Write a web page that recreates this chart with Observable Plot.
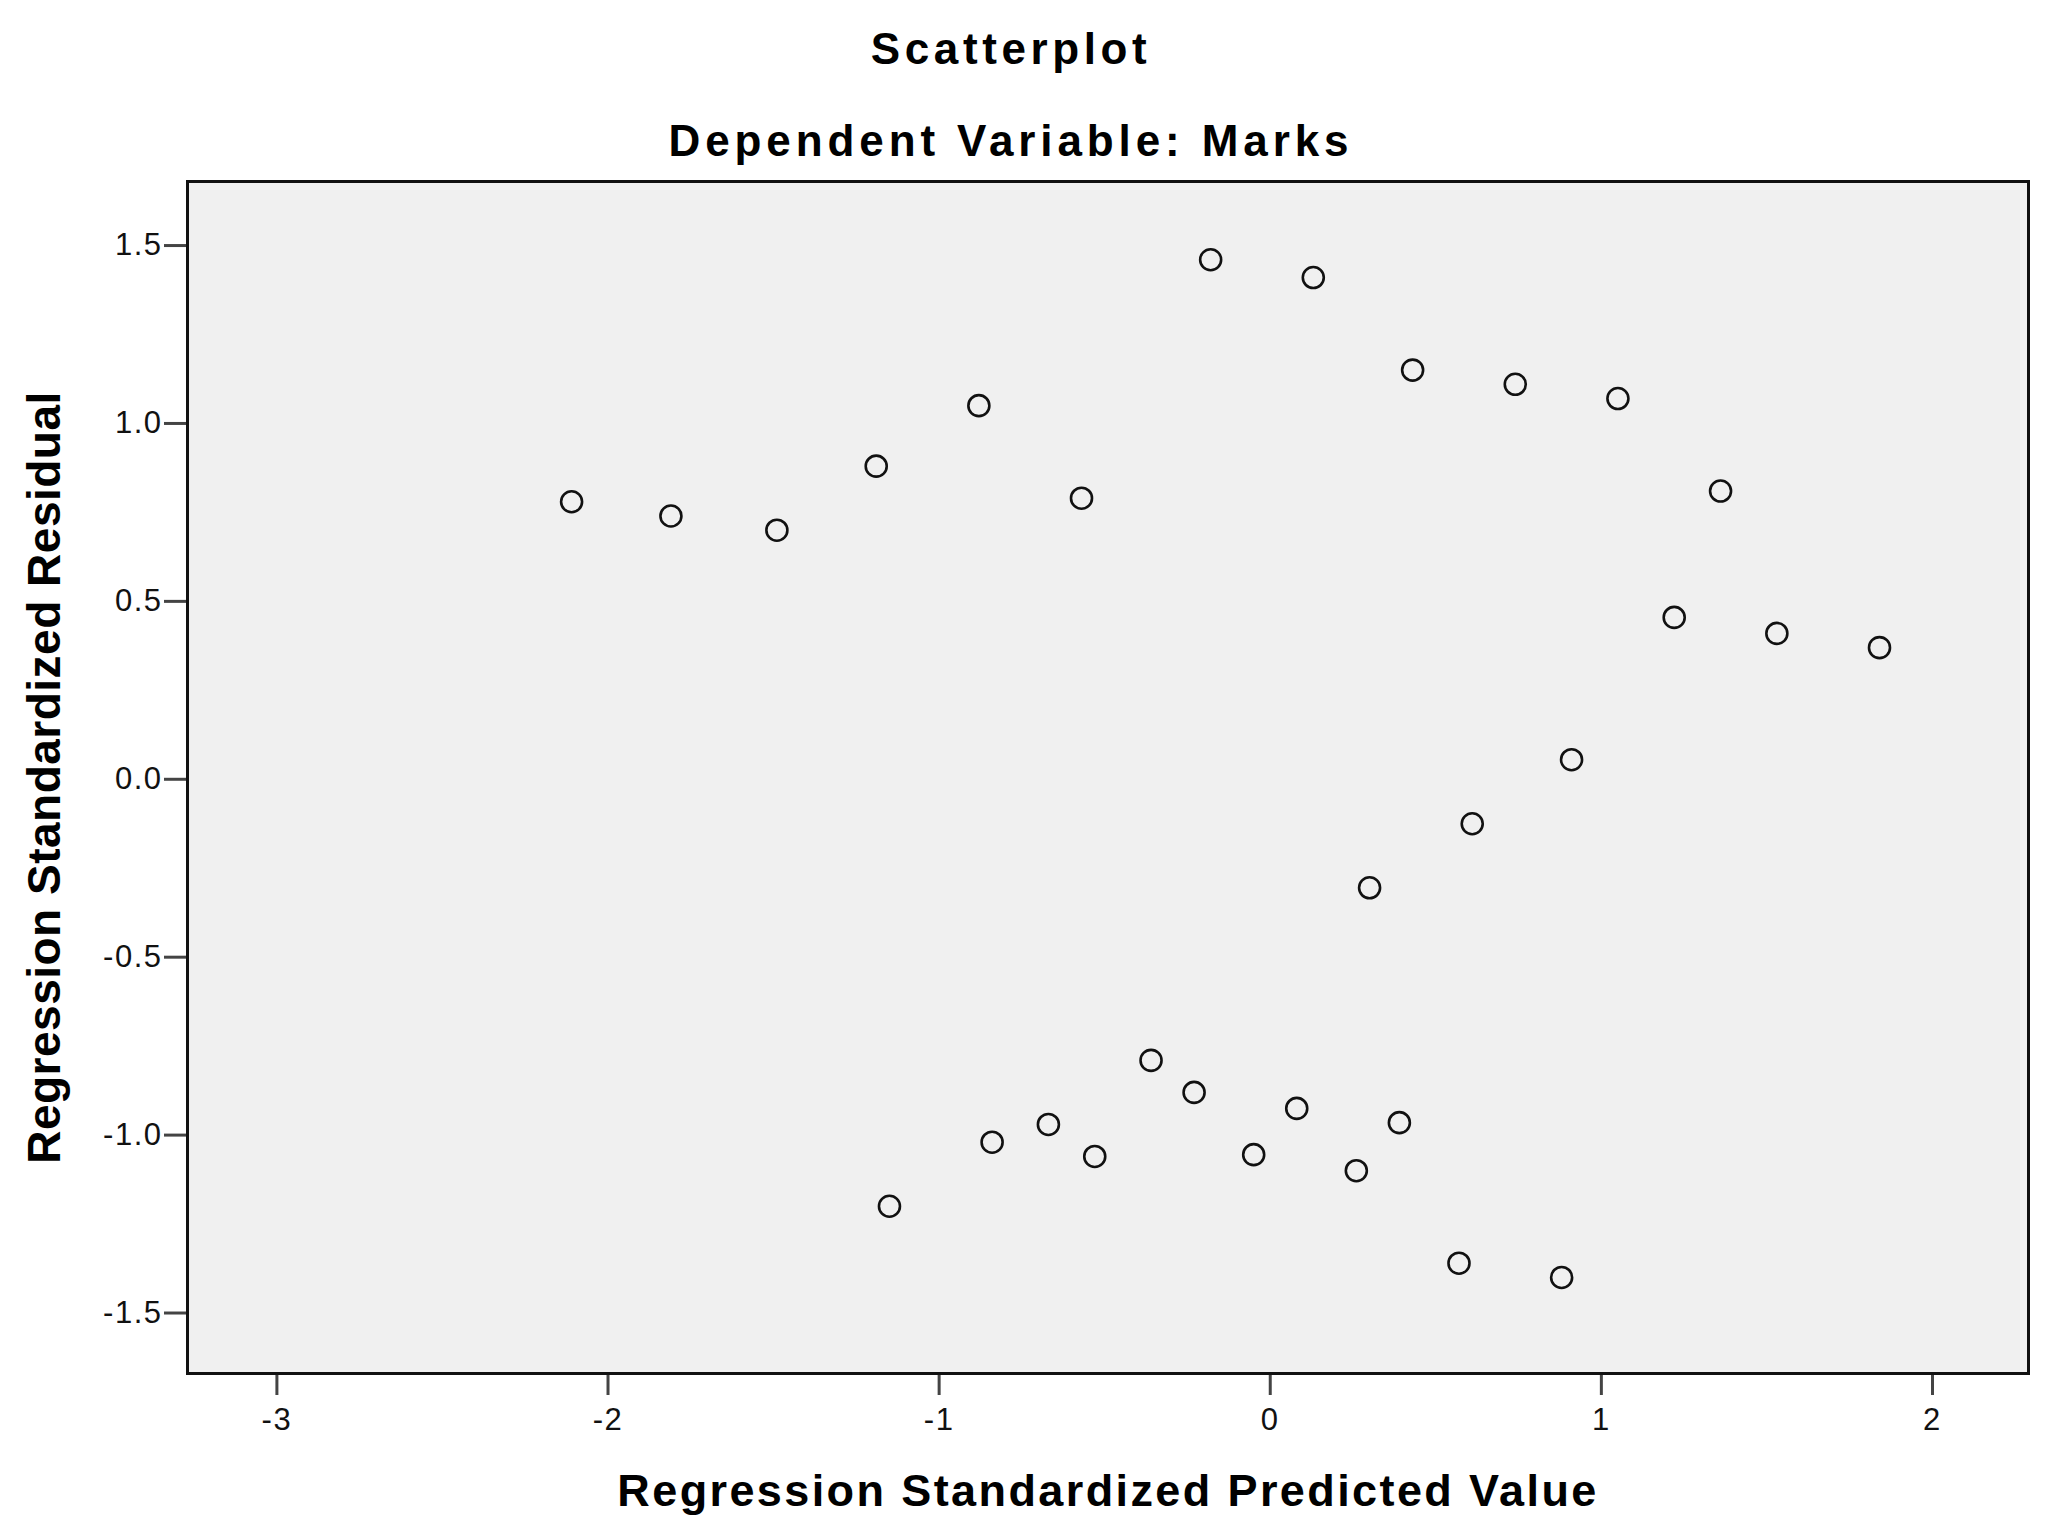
<!DOCTYPE html>
<html>
<head>
<meta charset="utf-8">
<script src="https://cdn.jsdelivr.net/npm/d3@7"></script>
<script src="https://cdn.jsdelivr.net/npm/@observablehq/plot@0.6"></script>
<style>
  html, body { margin: 0; padding: 0; background: #fff; }
  #chart { width: 2048px; height: 1536px; }
</style>
</head>
<body>
<div id="chart"></div>
<script>
// Regression standardized predicted values (x) and standardized residuals (y)
const predicted = [
  -2.11, -1.81, -1.49, -1.19, -0.88, -0.57, -0.18, 0.13, 0.43, 0.74,
  1.05, 1.36, 1.22, 1.53, 1.84, 0.91, 0.61, 0.30, -0.36, -0.23,
  0.08, 0.39, -0.67, -0.84, -0.53, -0.05, 0.26, -1.15, 0.57, 0.88
];
const residual = [
  0.78, 0.74, 0.70, 0.88, 1.05, 0.79, 1.46, 1.41, 1.15, 1.11,
  1.07, 0.81, 0.455, 0.41, 0.37, 0.055, -0.125, -0.305, -0.79, -0.88,
  -0.925, -0.965, -0.97, -1.02, -1.06, -1.055, -1.10, -1.20, -1.36, -1.40
];
const xTicks = [-3, -2, -1, 0, 1, 2];
const yTicks = [-1.5, -1.0, -0.5, 0.0, 0.5, 1.0, 1.5];
const titleText = ["Scatterplot"];
const subtitleText = ["Dependent Variable: Marks"];
const xLabel = ["Regression Standardized Predicted Value"];
const yLabel = ["Regression Standardized Residual"];

const points = predicted.map((x, i) => ({x, y: residual[i]}));

const font = "'Liberation Sans', Arial, Helvetica, sans-serif";

const chart = Plot.plot({
  width: 2048,
  height: 1536,
  marginLeft: 187,
  marginRight: 20,
  marginTop: 181,
  marginBottom: 163,
  style: {fontFamily: font, background: "#fff", color: "#000", overflow: "visible"},
  x: {domain: [-3.27, 2.29]},
  y: {domain: [-1.67, 1.68]},
  marks: [
    Plot.frame({fill: "#f0f0f0", stroke: null}),
    Plot.axisX({
      ticks: xTicks, tickSize: 22, tickPadding: 12, fontSize: 31,
      tickFormat: d => String(d), label: null,
      stroke: "#444", strokeWidth: 3, fill: "#111"
    }),
    Plot.axisY({
      ticks: yTicks, tickSize: 23, tickPadding: 2, fontSize: 31,
      tickFormat: d => d.toFixed(1), label: null,
      stroke: "#444", strokeWidth: 3, fill: "#111"
    }),
    Plot.dot(points, {x: "x", y: "y", r: 10.5, stroke: "#111", strokeWidth: 2.6, fill: "none"}),
    Plot.frame({stroke: "#111", strokeWidth: 3}),
    Plot.text(titleText, {
      text: d => d, frameAnchor: "top", dx: -97, dy: -132, lineAnchor: "middle",
      fontSize: 44, fontWeight: "bold", fill: "#000"
    }),
    Plot.text(subtitleText, {
      text: d => d, frameAnchor: "top", dx: -97, dy: -40, lineAnchor: "middle",
      fontSize: 44, fontWeight: "bold", fill: "#000"
    }),
    Plot.text(xLabel, {
      text: d => d, frameAnchor: "bottom", dy: 118, lineAnchor: "middle",
      fontSize: 45, fontWeight: "bold", fill: "#000"
    }),
    Plot.text(yLabel, {
      text: d => d, frameAnchor: "left", dx: -142, rotate: -90,
      textAnchor: "middle", lineAnchor: "middle",
      fontSize: 46, fontWeight: "bold", fill: "#000"
    })
  ]
});

document.getElementById("chart").appendChild(chart);

// letter spacing to mimic the wide SPSS text rendering
const byText = new Map([
  [titleText[0], 4.6], [subtitleText[0], 4.9],
  [xLabel[0], 2.4], [yLabel[0], 0.5]
]);
chart.querySelectorAll("text").forEach(t => {
  const g = t.closest("g[aria-label]");
  const a = g ? g.getAttribute("aria-label") : "";
  let ls = null;
  if (byText.has(t.textContent)) ls = byText.get(t.textContent);
  else if (a === "x-axis tick label" || a === "y-axis tick label") ls = 1.5;
  if (ls != null) t.style.letterSpacing = ls + "px";
});
</script>
</body>
</html>
